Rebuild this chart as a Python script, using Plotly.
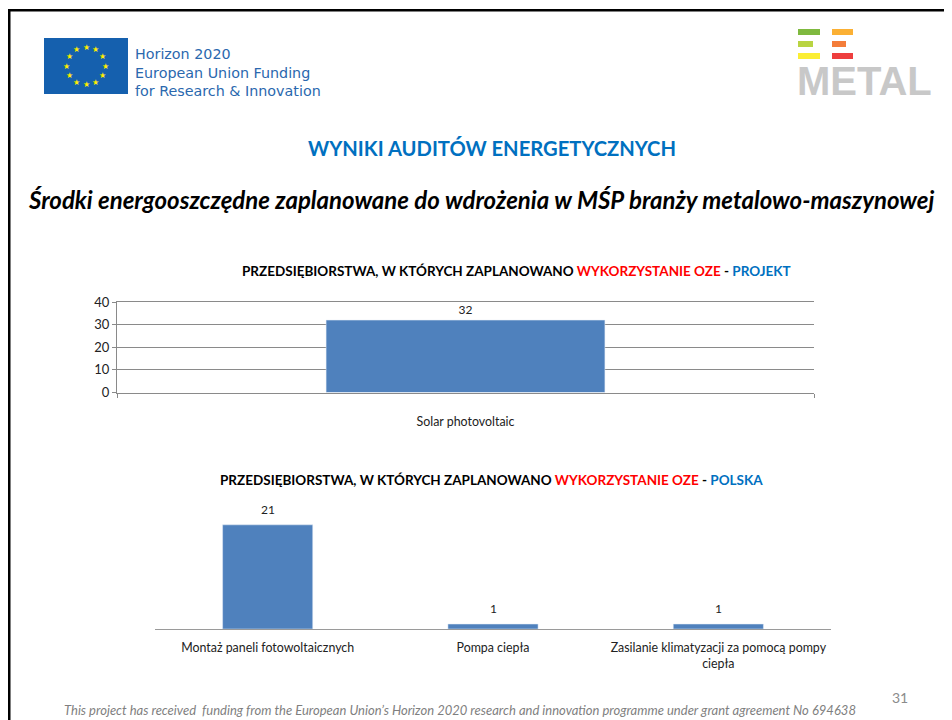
import math
import plotly.graph_objects as go

W, H = 952, 720
OFF_X, OFF_Y = 8, 8
FW, FH = W - OFF_X, H - OFF_Y

categories_project = ["Solar photovoltaic"]
values_project = [32]
categories_poland = ["Montaż paneli fotowoltaicznych", "Pompa ciepła",
                     "Zasilanie klimatyzacji za pomocą pompy<br>ciepła"]
values_poland = [21, 1, 1]
ticks_project = [0, 10, 20, 30, 40]

BAR = "#4f81bd"
FONT = "Lato, Carlito, sans-serif"


def px(x):
    return (x - OFF_X) / FW


def py(y):
    return 1 - (y - OFF_Y) / FH


fig = go.Figure()
fig.add_trace(go.Bar(x=categories_project, y=values_project, marker_color=BAR, width=0.4,
                     text=values_project, textposition="outside", cliponaxis=False,
                     textfont=dict(size=12, color="#222", family=FONT),
                     xaxis="x", yaxis="y", showlegend=False))
fig.add_trace(go.Bar(x=categories_poland, y=values_poland, marker_color=BAR, width=0.4,
                     xaxis="x2", yaxis="y2", showlegend=False))

shapes = []


def rect(x0, y0, x1, y1, color):
    shapes.append(dict(type="rect", xref="paper", yref="paper", x0=px(x0), x1=px(x1),
                       y0=py(y1), y1=py(y0), fillcolor=color, line_width=0, layer="above"))


# slide frame
rect(8, 9, 952, 11.5, "#000000")
rect(8, 9, 10.5, 720, "#000000")
# EU flag
rect(44, 38, 128, 94, "#1560ae")
# EE logo bars
rect(798, 29, 820, 35, "#7fb93f")
rect(832, 29, 853, 35, "#fbb034")
rect(798, 41, 813, 47, "#b9d442")
rect(832, 41, 846, 47, "#f47d3a")
rect(798, 53, 820, 59, "#fbee34")
rect(832, 53, 853, 59, "#ee3e3e")

ann = []


def text(x, y, s, size, color="#000", anchor="left", family=FONT, **kw):
    ann.append(dict(x=px(x), y=py(y), xref="paper", yref="paper", text=s, showarrow=False,
                    xanchor=anchor, yanchor="middle", align=anchor if anchor != "middle" else "center",
                    borderpad=0, font=dict(size=size, color=color, family=family), **kw))


for k in range(12):
    a = math.radians(30 * k)
    text(86 + 19.5 * math.sin(a), 66 - 19 * math.cos(a), "★", 8, "#ffed00", "center", "DejaVu Sans")

text(134, 72, "Horizon 2020<br>European Union Funding<br>for Research &amp; Innovation", 14.3, "#2a68ae",
     family="DejaVu Sans")
text(796, 81, "<b>METAL</b>", 40, "#c8c8c8", family="Liberation Sans")

text(492, 148, "<b>WYNIKI AUDITÓW ENERGETYCZNYCH</b>", 20.2, "#0070c0", "center")
text(481, 199, "<b><i>Środki energooszczędne zaplanowane do wdrożenia w MŚP branży metalowo-maszynowej</i></b>",
     24, "#000", "center")
text(517, 271, "<b>PRZEDSIĘBIORSTWA, W KTÓRYCH ZAPLANOWANO <span style='color:#ff0000'>WYKORZYSTANIE OZE</span>"
     " - <span style='color:#0070c0'>PROJEKT</span></b>", 13.5, "#000", "center")
text(492, 480, "<b>PRZEDSIĘBIORSTWA, W KTÓRYCH ZAPLANOWANO <span style='color:#ff0000'>WYKORZYSTANIE OZE</span>"
     " - <span style='color:#0070c0'>POLSKA</span></b>", 13.5, "#000", "center")
text(460, 710, "<i>This project has received  funding from the European Union’s Horizon 2020 research and innovation"
     " programme under grant agreement No 694638</i>", 13, "#7f7f7f", "center")
text(900, 697, "31", 14, "#8b8b8b", "center")

for cat, val in zip(categories_poland, values_poland):
    ann.append(dict(x=cat, y=val, xref="x2", yref="y2", text=str(val), showarrow=False,
                    yanchor="bottom", yshift=6, font=dict(size=12, color="#222", family=FONT)))

fig.update_layout(
    width=FW, height=FH, margin=dict(l=0, r=0, t=0, b=0, pad=0, autoexpand=False), autosize=False,
    paper_bgcolor="#fff", plot_bgcolor="#fff", showlegend=False,
    shapes=shapes, annotations=ann, font=dict(family=FONT, color="#222", size=12),
    xaxis=dict(domain=[px(117), px(814)], anchor="y", showline=True, mirror=True, linecolor="#8a8a8a", linewidth=1,
               ticks="outside", ticklen=4, tickcolor="#8a8a8a", tickson="boundaries",
               ticklabelstandoff=18, tickfont=dict(size=12.4, color="#222"), showgrid=False,
               fixedrange=True),
    yaxis=dict(domain=[py(392.5), py(302)], range=[0, 40], tickvals=ticks_project, showline=True,
               linecolor="#8a8a8a", linewidth=1, ticks="outside", ticklen=4, tickcolor="#8a8a8a",
               gridcolor="#8a8a8a", gridwidth=1, zeroline=False,
               tickfont=dict(size=13, color="#222"), fixedrange=True),
    xaxis2=dict(domain=[px(155), px(831)], anchor="y2", showline=True, linecolor="#9a9a9a", linewidth=1,
                ticks="", ticklabelstandoff=7, tickfont=dict(size=12.4, color="#222"), showgrid=False,
                fixedrange=True),
    yaxis2=dict(domain=[py(629), py(505)], range=[0, 25], anchor="x2", visible=False, fixedrange=True),
)

fig.write_html("out.html")
